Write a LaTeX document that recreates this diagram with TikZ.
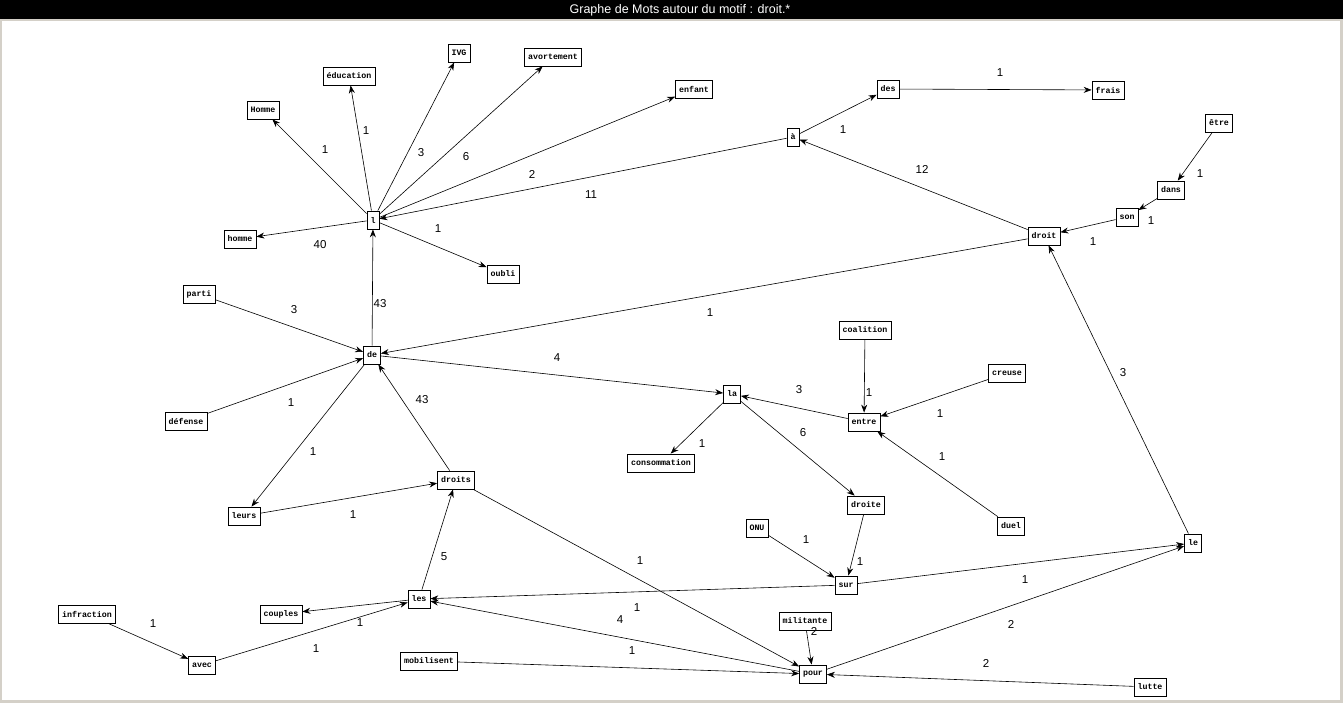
\documentclass[tikz,border=0pt]{standalone}
\usepackage{fontspec}
\newfontfamily\wordfont{Liberation Mono}
\newfontfamily\numfont{Liberation Sans}
\usetikzlibrary{arrows.meta}
\definecolor{framegray}{RGB}{212,208,200}

\begin{document}
\begin{tikzpicture}[x=1pt, y=-1pt,
    word/.style={draw, line width=0.8pt, fill=white, font=\wordfont\bfseries\fontsize{8.3}{8.3}\selectfont,
        minimum height=18pt, inner xsep=3.5pt, inner ysep=0pt},
    wt/.style={font=\numfont\fontsize{11.5}{11.5}\selectfont, inner sep=0pt},
    arr/.style={-{Stealth[length=8pt, width=6pt]}, line width=0.6pt}]
    % window and title bar
    \fill[framegray] (0,0) rectangle (1343,703);
    \fill[black] (0,0) rectangle (1343,19);
    \fill[white] (2,21) rectangle (1340,700);
    \node[font=\numfont\fontsize{12.5}{12.5}\selectfont, text=white] (title) at (680,10) {Graphe de Mots autour du motif : droit.*};

    % words (name/text/x/y in pixels)
    \foreach \n/\t/\x/\y in {
        Homme/Homme/263/110, educ/éducation/349/76, IVG/IVG/459/53, avort/avortement/553/57,
        enfant/enfant/694/89, l/l/373/220, homme/homme/240/239, oubli/oubli/503/274,
        a/à/793/137, des/des/888/89, frais/frais/1108/90, etre/être/1219/123,
        dans/dans/1171/190, son/son/1127/217, droit/droit/1044/236, parti/parti/199/294,
        de/de/372/355, defense/défense/186/421, coalition/coalition/865/330, creuse/creuse/1007/373,
        la/la/732/394, entre/entre/864/422, conso/consommation/661/463, droits/droits/456/480,
        leurs/leurs/244/516, droite/droite/866/505, duel/duel/1011/526, ONU/ONU/757/528,
        le/le/1193/543, sur/sur/846/585, les/les/419/599, couples/couples/281/614,
        infraction/infraction/87/614, militante/militante/805/621, avec/avec/202/665,
        mobilisent/mobilisent/429/661, pour/pour/813/674, lutte/lutte/1150/687}
        \node[word] (\n) at (\x,\y) {\t};

    % links with their counts (from/to/count/x/y)
    \foreach \s/\d/\w/\x/\y [count=\i] in {
        l/Homme/1/325/150, l/educ/1/366/131, l/IVG/3/421/153, l/avort/6/466/157,
        l/enfant/2/532/174, a/l/11/591/195, l/homme/40/320/245, l/oubli/1/438/229,
        de/l/43/380/304, a/des/1/843/130, des/frais/1/1000/73, droit/a/12/922/169,
        etre/dans/1/1200/174, dans/son/1/1151/221, son/droit/1/1093/242, droit/de/1/710/313,
        le/droit/3/1123/373, parti/de/3/294/310, defense/de/1/291/403, de/leurs/1/313/452,
        droits/de/43/422/400, de/la/4/557/358, entre/la/3/799/390, la/conso/1/702/444,
        la/droite/6/803/433, coalition/entre/1/869/393, creuse/entre/1/940/414, duel/entre/1/942/457,
        leurs/droits/1/353/515, les/droits/5/444/557, droits/pour/1/640/561, droite/sur/1/860/562,
        ONU/sur/1/806/540, sur/le/1/1025/580, sur/les/1/637/608, pour/les/4/620/620,
        les/couples/1/360/623, avec/les/1/316/649, infraction/avec/1/153/624, militante/pour/2/814/631,
        mobilisent/pour/1/632/651, pour/le/2/1011/624, lutte/pour/2/986/663}
        \draw[arr] (\s) -- (\d) node[wt] (w\i) at (\x,\y) {\w};
\end{tikzpicture}
\end{document}
